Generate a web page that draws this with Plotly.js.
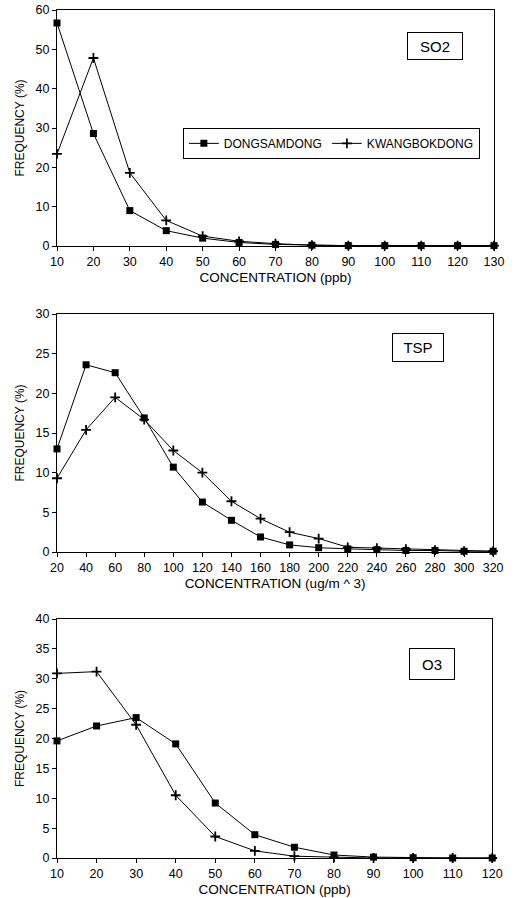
<!DOCTYPE html>
<html>
<head>
<meta charset="utf-8">
<script src="https://cdn.plot.ly/plotly-3.0.1.min.js"></script>
<style>html,body{margin:0;padding:0;background:#fff;}#chart{width:514px;height:898px;}</style>
</head>
<body>
<div id="chart"></div>
<script>
// SO2 panel
const so2X = [10,20,30,40,50,60,70,80,90,100,110,120,130];
const so2Dong = [56.7,28.6,9.0,3.9,2.0,0.9,0.4,0.2,0.1,0.1,0.1,0.1,0.1];
const so2Kwang = [23.4,47.8,18.6,6.5,2.5,1.2,0.6,0.2,0.1,0.1,0.1,0.1,0.1];
// TSP panel
const tspX = [20,40,60,80,100,120,140,160,180,200,220,240,260,280,300,320];
const tspDong = [13.0,23.6,22.6,16.9,10.7,6.3,4.0,1.9,0.9,0.55,0.4,0.3,0.2,0.2,0.1,0.1];
const tspKwang = [9.3,15.4,19.5,16.7,12.8,10.0,6.4,4.2,2.5,1.7,0.6,0.5,0.35,0.25,0.12,0.1];
// O3 panel
const o3X = [10,20,30,40,50,60,70,80,90,100,110,120];
const o3Dong = [19.6,22.1,23.5,19.1,9.2,3.9,1.8,0.5,0.15,0.05,0,0];
const o3Kwang = [30.9,31.2,22.3,10.5,3.6,1.2,0.3,0.1,0,0,0,0];

const seriesNames = ['DONGSAMDONG','KWANGBOKDONG'];
const panelLabels = ['SO2','TSP','O3'];
const xTitles = ['CONCENTRATION (ppb)','CONCENTRATION (ug/m ^ 3)','CONCENTRATION (ppb)'];
const yTitle = 'FREQUENCY (%)';

const FONT = 'Liberation Sans, Arial, sans-serif';
const sqMarker = {symbol:'square', size:7, color:'#000'};
const crMarker = {symbol:'cross-thin', size:7, color:'#000', line:{color:'#000', width:1.8}};
const ln = {color:'#000', width:1};

function tr(x, y, name, marker, ax, show) {
  return {x:x, y:y, name:name, type:'scatter', mode:'lines+markers', line:ln, marker:marker,
    xaxis:'x'+ax, yaxis:'y'+ax, showlegend:show, cliponaxis:false};
}
const data = [
  tr(so2X, so2Dong, seriesNames[0], sqMarker, '', true),
  tr(so2X, so2Kwang, seriesNames[1], crMarker, '', true),
  tr(tspX, tspDong, seriesNames[0], sqMarker, '2', false),
  tr(tspX, tspKwang, seriesNames[1], crMarker, '2', false),
  tr(o3X, o3Dong, seriesNames[0], sqMarker, '3', false),
  tr(o3X, o3Kwang, seriesNames[1], crMarker, '3', false)
];

function xa(anchor, range, dtick, title, dom) {
  return {anchor:anchor, domain:dom, range:range, dtick:dtick, tick0:range[0], showline:true, mirror:true,
    linecolor:'#000', linewidth:1, ticks:'outside', ticklen:4, tickcolor:'#000', showgrid:false, zeroline:false,
    tickfont:{size:12.5, color:'#000', family:FONT}, title:{text:title, font:{size:13.5, color:'#000', family:FONT}, standoff:4}};
}
function ya(anchor, range, dtick, dom) {
  return {anchor:anchor, domain:dom, range:range, dtick:dtick, showline:true, mirror:true,
    linecolor:'#000', linewidth:1, ticks:'outside', ticklen:4, tickcolor:'#000', showgrid:false, zeroline:false,
    tickfont:{size:12.5, color:'#000', family:FONT}, title:{text:yTitle, font:{size:12, color:'#000', family:FONT}, standoff:8}};
}
function lab(text, x, y, w, h) {
  return {xref:'paper', yref:'paper', x:x, y:y, text:text, showarrow:false, font:{size:15, color:'#000', family:FONT},
    bordercolor:'#000', borderwidth:1, borderpad:4, bgcolor:'#fff', width:w, height:h, xanchor:'center', yanchor:'middle'};
}

const layout = {
  width:514, height:898, margin:{l:57, r:20, t:10, b:40},
  paper_bgcolor:'#fff', plot_bgcolor:'#fff', font:{family:FONT, color:'#000'},
  xaxis: xa('y', [10,130], 10, xTitles[0], [0,1]),
  yaxis: ya('x', [0,60], 10, [0.7217,1]),
  xaxis2: xa('y2', [20,320], 20, xTitles[1], [0,0.998]),
  yaxis2: ya('x2', [0,30], 5, [0.3608,0.6415]),
  xaxis3: xa('y3', [10,120], 10, xTitles[2], [0,0.996]),
  yaxis3: ya('x3', [0,40], 5, [0,0.2818]),
  legend:{orientation:'h', x:0.288, y:0.861, xanchor:'left', yanchor:'top', bordercolor:'#000', borderwidth:1,
    bgcolor:'#fff', font:{size:12, color:'#000', family:FONT}},
  annotations:[
    lab(panelLabels[0], 0.865, 0.9575, 46, 18),
    lab(panelLabels[1], 0.825, 0.602, 42, 19),
    lab(panelLabels[2], 0.857, 0.2288, 36, 22)
  ]
};
Plotly.newPlot('chart', data, layout, {displayModeBar:false, staticPlot:true});
</script>
</body>
</html>
